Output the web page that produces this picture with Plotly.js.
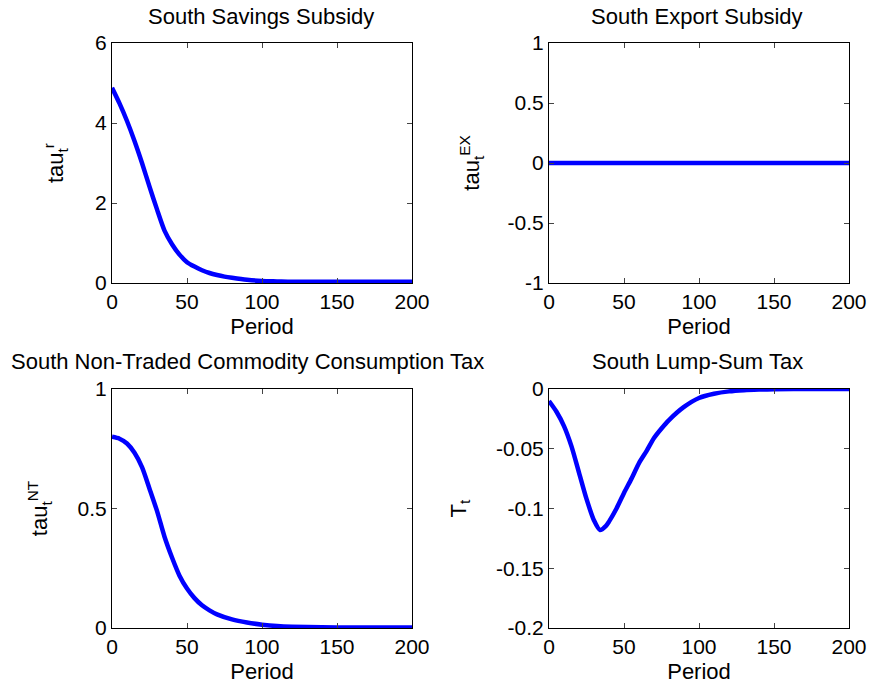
<!DOCTYPE html>
<html>
<head>
<meta charset="utf-8">
<script src="https://cdn.plot.ly/plotly-3.0.1.min.js"></script>
<style>html,body{margin:0;padding:0;background:#fff;}#chart{width:875px;height:694px;}</style>
</head>
<body>
<div id="chart"></div>
<script>
// Values
const periodsA = [0,5,10,15,20,25,30,35,40,45,50,55,60,65,70,75,80,90,100,110,120,140,160,180,200];
const savingsSubsidy = [4.88,4.49,4.05,3.55,3.00,2.41,1.84,1.31,0.97,0.71,0.52,0.41,0.32,0.25,0.20,0.16,0.13,0.08,0.05,0.04,0.03,0.03,0.03,0.03,0.03];

const periodsB = [0,50,100,150,200];
const exportSubsidy = [0,0,0,0,0];

const periodsC = [0,5,10,15,20,25,30,35,40,45,50,55,60,65,70,80,90,100,110,120,140,160,180,200];
const ntConsumptionTax = [0.80,0.792,0.772,0.733,0.673,0.583,0.49,0.382,0.295,0.219,0.165,0.125,0.095,0.074,0.057,0.036,0.023,0.014,0.008,0.005,0.003,0.002,0.002,0.002];

const periodsD = [0,5,10,15,20,25,30,34,38,40,45,50,55,60,65,70,75,80,90,100,110,120,130,140,150,175,200];
const lumpSumTax = [-0.010,-0.019,-0.031,-0.048,-0.070,-0.092,-0.110,-0.118,-0.1145,-0.111,-0.100,-0.087,-0.075,-0.062,-0.052,-0.041,-0.033,-0.026,-0.015,-0.0075,-0.004,-0.002,-0.001,-0.0005,-0.0002,0,0];

const xTicks = [0,50,100,150,200];
const yTicksA = [0,2,4,6];
const yTicksB = [-1,-0.5,0,0.5,1];
const yTickTextB = ["-1","-0.5","0","0.5","1"];
const yTicksC = [0,0.5,1];
const yTicksD = [-0.2,-0.15,-0.1,-0.05,0];
const yTickTextD = ["-0.2","-0.15","-0.1","-0.05","0"];
const panelTitles = ["South Savings Subsidy","South Export Subsidy","South Non-Traded Commodity Consumption Tax","South Lump-Sum Tax"];
const yTitles = ["tau<sub>t</sub><sup>r</sup>","tau<sub>t</sub><sup>EX</sup>","tau<sub>t</sub><sup>NT</sup>","T<sub>t</sub>"];

const W = 875, H = 694;
const FONT = "Liberation Sans, Arial, sans-serif";
const lineStyle = {color:"#0000ff", width:4.5, shape:"spline", smoothing:0.7};

const traces = [
  {x:periodsA, y:savingsSubsidy, xaxis:"x", yaxis:"y", mode:"lines", line:lineStyle},
  {x:periodsB, y:exportSubsidy, xaxis:"x2", yaxis:"y2", mode:"lines", line:lineStyle},
  {x:periodsC, y:ntConsumptionTax, xaxis:"x3", yaxis:"y3", mode:"lines", line:lineStyle},
  {x:periodsD, y:lumpSumTax, xaxis:"x4", yaxis:"y4", mode:"lines", line:lineStyle}
];

function px(v){return v/W;}
function py(v){return (H-v)/H;}

const domL = [px(112), px(412)], domR = [px(549), px(849)];
const domT = [py(283), py(43)], domB = [py(628), py(389)];

const tickFont = {size:21, color:"#000", family:FONT};
const titleFont = {size:22, color:"#000", family:FONT};

function xax(dom, anchor){
  return {domain:dom, anchor:anchor, range:[0,200], tickvals:xTicks, ticks:"inside", ticklen:5,
    mirror:"ticks", showline:true, linecolor:"#000", linewidth:1, showgrid:false, zeroline:false,
    tickfont:tickFont,
    title:{text:"Period", font:titleFont, standoff:6}};
}
function yax(dom, anchor, range, vals, texts, title, standoff){
  const a = {domain:dom, anchor:anchor, range:range, tickvals:vals, ticks:"inside", ticklen:5,
    mirror:"ticks", showline:true, linecolor:"#000", linewidth:1, showgrid:false, zeroline:false,
    tickfont:tickFont,
    title:{text:title, font:titleFont, standoff:standoff}};
  if (texts) a.ticktext = texts;
  return a;
}

const titleX = [px(261), px(697), px(247), px(697)];
const titleY = [py(17), py(17), py(361), py(361)];

const layout = {
  width:W, height:H, showlegend:false,
  paper_bgcolor:"#fff", plot_bgcolor:"#fff",
  margin:{l:0, r:0, t:0, b:0},
  font:{family:FONT, color:"#000"},
  xaxis: xax(domL, "y"),
  yaxis: yax(domT, "x", [0,6], yTicksA, null, yTitles[0], 25),
  xaxis2: xax(domR, "y2"),
  yaxis2: yax(domT, "x2", [-1,1], yTicksB, yTickTextB, yTitles[1], 21),
  xaxis3: xax(domL, "y3"),
  yaxis3: yax(domB, "x3", [0,1], yTicksC, null, yTitles[2], 23),
  xaxis4: xax(domR, "y4"),
  yaxis4: yax(domB, "x4", [-0.2,0], yTicksD, yTickTextD, yTitles[3], 23),
  annotations: panelTitles.map((t,i)=>({
    text:t, x:titleX[i], y:titleY[i], xref:"paper", yref:"paper", showarrow:false,
    xanchor:"center", yanchor:"middle", font:titleFont
  }))
};

Plotly.newPlot("chart", traces, layout, {staticPlot:true, displayModeBar:false});
</script>
</body>
</html>
